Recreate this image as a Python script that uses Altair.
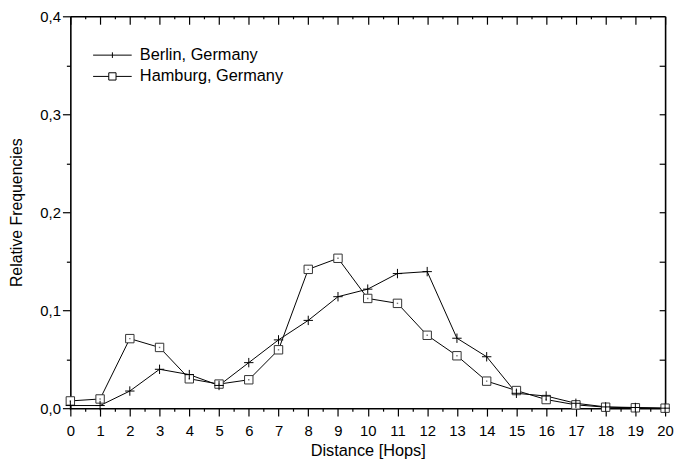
import altair as alt
import pandas as pd

# ---- data ----
hops = list(range(21))
berlin = [0.0027, 0.0027, 0.0175, 0.0397, 0.0343, 0.0232, 0.0465, 0.0697, 0.0896, 0.1138,
          0.1215, 0.1374, 0.1394, 0.0714, 0.0525, 0.0152, 0.0124, 0.0050, 0.0013, 0.0007, 0.0000]
hamburg = [0.0074, 0.0094, 0.0710, 0.0620, 0.0300, 0.0246, 0.0290, 0.0596, 0.1417, 0.1530,
           0.1120, 0.1070, 0.0744, 0.0535, 0.0276, 0.0180, 0.0088, 0.0034, 0.0010, 0.0004, 0.0000]
series_names = ["Berlin, Germany", "Hamburg, Germany"]

x_major = [0, 1, 2, 3, 4, 5, 6, 7, 8, 9, 10, 11, 12, 13, 14, 15, 16, 17, 18, 19, 20]
x_minor = [0.5, 1.5, 2.5, 3.5, 4.5, 5.5, 6.5, 7.5, 8.5, 9.5, 10.5, 11.5, 12.5, 13.5,
           14.5, 15.5, 16.5, 17.5, 18.5, 19.5]
y_major = [0.0, 0.1, 0.2, 0.3, 0.4]
y_minor = [0.05, 0.15, 0.25, 0.35]
y_right = [0.05, 0.1, 0.15, 0.2, 0.25, 0.3, 0.35]

W, H = 601, 396
FONT = "Liberation Sans"

rows = []
for h, b in zip(hops, berlin):
    rows.append({"dist": h, "value": b, "series": series_names[0]})
for h, v in zip(hops, hamburg):
    rows.append({"dist": h, "value": v, "series": series_names[1]})
df = pd.DataFrame(rows)

xs = alt.Scale(domain=[0, 20], nice=False, zero=False)
ys = alt.Scale(domain=[0, 0.4], nice=False, zero=False)

base = alt.Chart(df)

# main lines with the labelled bottom / left axes
lines = base.mark_line(color="black", strokeWidth=1).encode(
    x=alt.X("dist:Q", scale=xs, axis=alt.Axis(
        orient="bottom", values=x_major, tickSize=8, tickWidth=1.2, domainWidth=1.6,
        labelFontSize=15, labelPadding=8, labelFlush=False, labelOverlap=False,
        title="Distance [Hops]", titleFontSize=16.5, titleY=35)),
    y=alt.Y("value:Q", scale=ys, axis=alt.Axis(
        orient="left", values=y_major, tickSize=8, tickWidth=1.2, domainWidth=1.6,
        labelFontSize=15, labelPadding=2, labelFlush=False, labelOverlap=False,
        labelExpr="replace(format(datum.value, '.1f'), '.', ',')",
        title="Relative Frequencies", titleFontSize=16, titleX=-46)),
    detail="series:N",
)

# Hamburg squares, carrying the minor bottom / left ticks
squares = base.transform_filter(alt.datum.series == series_names[1]).mark_point(
    shape="square", filled=True, fill="white", stroke="#333333", strokeWidth=1,
    size=72, opacity=1).encode(
    x=alt.X("dist:Q", scale=xs, axis=alt.Axis(
        orient="bottom", values=x_minor, tickSize=3, tickWidth=1.2, domain=False,
        labels=False, title=None)),
    y=alt.Y("value:Q", scale=ys, axis=alt.Axis(
        orient="left", values=y_minor, tickSize=4, tickWidth=1.2, domain=False,
        labels=False, title=None)),
)

# centre dots of the squares, carrying the top minor ticks
dots = base.transform_filter(alt.datum.series == series_names[1]).mark_point(
    shape="square", filled=True, color="#777777", size=2, opacity=1).encode(
    x=alt.X("dist:Q", scale=xs, axis=alt.Axis(
        orient="bottom", offset=-H, values=x_minor, tickSize=2.5, tickWidth=1.2,
        domain=False, labels=False, title=None)),
    y=alt.Y("value:Q", scale=ys, axis=None),
)

# Berlin crosses, carrying the top / right inward ticks and the frame
crosses = base.transform_filter(alt.datum.series == series_names[0]).mark_point(
    shape="M-1,0H1M0,-1V1", filled=False, stroke="black", strokeWidth=1,
    size=90, opacity=1).encode(
    x=alt.X("dist:Q", scale=xs, axis=alt.Axis(
        orient="bottom", offset=-H, values=x_major, tickSize=8, tickWidth=1.2,
        domainWidth=1.6, labels=False, title=None)),
    y=alt.Y("value:Q", scale=ys, axis=alt.Axis(
        orient="left", offset=-W, values=y_right, tickSize=6, tickWidth=1.2,
        domainWidth=1.6, labels=False, title=None)),
)

legend_paths = [
    "M-2.6,0H2.6M0,-0.38V0.38",
    "M-2.6,0H-0.49M0.49,0H2.6M-0.49,-0.49H0.49V0.49H-0.49Z",
]

legend_layer = base.transform_filter("datum.dist > 100").mark_point(
    filled=False, color="black", size=225, opacity=1).encode(
    x=alt.X("dist:Q", scale=xs, axis=None),
    y=alt.Y("value:Q", scale=ys, axis=None),
    shape=alt.Shape("series:N", scale=alt.Scale(domain=series_names, range=legend_paths),
                    legend=alt.Legend(
                        orient="none", legendX=23, legendY=31, title=None,
                        padding=0, rowPadding=4.5, symbolSize=225,
                        symbolOffset=11.25, labelOffset=19.5,
                        symbolStrokeWidth=1, symbolStrokeColor="black",
                        symbolFillColor="white", labelFontSize=16.5,
                        labelFont=FONT, labelColor="black")),
)

chart = alt.layer(lines, squares, dots, crosses, legend_layer).resolve_axis(
    x="independent", y="independent"
).properties(
    width=W, height=H,
    autosize=alt.AutoSizeParams(type="none"),
    padding={"left": 63, "top": 6, "right": 10, "bottom": 52},
    background="white",
).configure_view(stroke=None).configure_axis(
    labelFont=FONT, titleFont=FONT, labelColor="black", titleColor="black",
    tickColor="black", domainColor="black", grid=False, titleFontWeight="normal",
)

chart.save("out.html", embed_options={"renderer": "svg", "actions": False})
